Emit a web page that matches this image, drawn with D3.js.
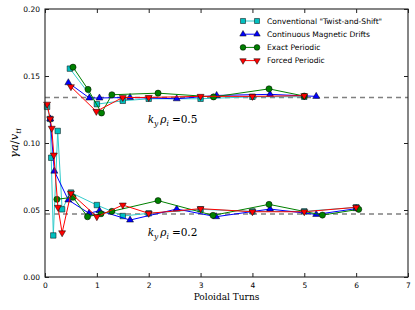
<!DOCTYPE html>
<html>
<head>
<meta charset="utf-8">
<script src="https://cdn.jsdelivr.net/npm/d3@7"></script>
<style>
  body { margin: 0; background: #fff; }
  text { font-family: "DejaVu Sans", sans-serif; }
</style>
</head>
<body>
<svg id="chart" width="415" height="310"></svg>
<script>
// values
var xTicks = [0, 1, 2, 3, 4, 5, 6, 7];
var yTicks = [0.00, 0.05, 0.10, 0.15, 0.20];
var refLines = [0.134, 0.047];

var methodNames = ['Conventional "Twist-and-Shift"', "Continuous Magnetic Drifts", "Exact Periodic", "Forced Periodic"];

// Conventional "Twist-and-Shift"
var twistLowX = [0.04, 0.10, 0.12, 0.16, 0.245, 0.33, 0.5, 1.0, 1.5, 2.0, 3.0, 4.0, 5.0, 6.0];
var twistLowY = [0.127, 0.118, 0.089, 0.031, 0.109, 0.0505, 0.063, 0.0537, 0.0455, 0.0475, 0.0505, 0.049, 0.049, 0.052];
var twistHighX = [0.48, 1.0, 1.5, 2.0, 3.0, 4.0, 5.0];
var twistHighY = [0.1555, 0.129, 0.1315, 0.133, 0.133, 0.1345, 0.1345];

// Continuous Magnetic Drifts
var driftLowX = [0.10, 0.18, 0.45, 0.85, 1.05, 1.64, 2.54, 3.3, 4.34, 5.23, 6.0];
var driftLowY = [0.118, 0.079, 0.0575, 0.0475, 0.0495, 0.0425, 0.0507, 0.045, 0.0507, 0.0467, 0.051];
var driftHighX = [0.45, 0.855, 1.05, 1.64, 2.54, 3.31, 4.34, 5.23];
var driftHighY = [0.145, 0.1336, 0.1336, 0.134, 0.133, 0.1355, 0.1363, 0.1348];

// Exact Periodic
var exactLowX = [0.23, 0.54, 0.82, 1.08, 1.29, 2.18, 3.24, 4.32, 5.35, 6.05];
var exactLowY = [0.058, 0.0595, 0.045, 0.0472, 0.049, 0.057, 0.046, 0.0542, 0.0462, 0.0505];
var exactHighX = [0.54, 0.83, 1.09, 1.29, 2.18, 3.25, 4.32, 5.0];
var exactHighY = [0.1566, 0.140, 0.1224, 0.136, 0.1372, 0.1344, 0.1404, 0.135];

// Forced Periodic
var forcedLowX = [0.04, 0.10, 0.13, 0.17, 0.25, 0.33, 0.5, 1.0, 1.5, 2.0, 3.0, 4.0, 5.0, 6.0];
var forcedLowY = [0.129, 0.118, 0.111, 0.091, 0.052, 0.033, 0.0625, 0.045, 0.0537, 0.0475, 0.051, 0.0487, 0.0487, 0.052];
var forcedHighX = [0.5, 0.99, 1.5, 2.0, 3.0, 4.0, 5.0];
var forcedHighY = [0.142, 0.1236, 0.134, 0.134, 0.1348, 0.1348, 0.1353];

var margin = {top: 9, right: 7, bottom: 33, left: 45};
var width = 415 - margin.left - margin.right;
var height = 310 - margin.top - margin.bottom;

var svg = d3.select("#chart");
var g = svg.append("g").attr("transform", "translate(" + margin.left + "," + margin.top + ")");

var x = d3.scaleLinear().domain([0, 7]).range([0, width]);
var y = d3.scaleLinear().domain([0, 0.2]).range([height, 0]);

function zip(xs, ys) {
  return xs.map(function(v, i) { return [v, ys[i]]; });
}

var series = [
  {name: methodNames[0], color: "#00bfbf", line: "#33cccc", shape: "square", parts: [zip(twistLowX, twistLowY), zip(twistHighX, twistHighY)]},
  {name: methodNames[1], color: "#0000ff", line: "#0000ff", shape: "up", parts: [zip(driftLowX, driftLowY), zip(driftHighX, driftHighY)]},
  {name: methodNames[2], color: "#008000", line: "#008000", shape: "circle", parts: [zip(exactLowX, exactLowY), zip(exactHighX, exactHighY)]},
  {name: methodNames[3], color: "#ff0000", line: "#ff0000", shape: "down", parts: [zip(forcedLowX, forcedLowY), zip(forcedHighX, forcedHighY)]}
];

// reference dashed lines
refLines.forEach(function(v) {
  g.append("line")
    .attr("x1", 0).attr("x2", width)
    .attr("y1", y(v)).attr("y2", y(v))
    .attr("stroke", "#808080")
    .attr("stroke-width", 1.6)
    .attr("stroke-dasharray", "5,4");
});

var line = d3.line().x(function(d) { return x(d[0]); }).y(function(d) { return y(d[1]); });

function drawMarker(sel, shape, color, k) {
  k = k || 1;
  var s;
  if (shape == "square") s = d3.symbol().type(d3.symbolSquare).size(30 * k);
  else if (shape == "circle") s = d3.symbol().type(d3.symbolCircle).size(30 * k);
  else s = d3.symbol().type(d3.symbolTriangle).size(21 * k);
  sel.append("path")
    .attr("d", s())
    .attr("transform", function() { return shape == "down" ? "rotate(180)" : null; })
    .attr("fill", color)
    .attr("stroke", "#000")
    .attr("stroke-width", 0.5);
}

series.forEach(function(s) {
  s.parts.forEach(function(pts) {
    g.append("path")
      .datum(pts)
      .attr("d", line)
      .attr("fill", "none")
      .attr("stroke", s.line)
      .attr("stroke-width", 1);

    g.selectAll(null).data(pts).enter()
      .append("g")
      .attr("transform", function(d) { return "translate(" + x(d[0]) + "," + y(d[1]) + ")"; })
      .each(function() { drawMarker(d3.select(this), s.shape, s.color); });
  });
});

// frame
g.append("rect")
  .attr("width", width).attr("height", height)
  .attr("fill", "none")
  .attr("stroke", "#222")
  .attr("stroke-width", 1.1);

// axes, ticks inward
var xAxis = d3.axisBottom(x).tickValues(xTicks).tickFormat(d3.format("d")).tickSizeInner(-4).tickSizeOuter(0).tickPadding(6);
var yAxis = d3.axisLeft(y).tickValues(yTicks).tickFormat(d3.format(".2f")).tickSizeInner(-4).tickSizeOuter(0).tickPadding(5);

var gx = g.append("g").attr("transform", "translate(0," + height + ")").call(xAxis);
var gy = g.append("g").call(yAxis);
g.append("g").call(d3.axisTop(x).tickValues(xTicks).tickFormat("").tickSizeInner(-4).tickSizeOuter(0));
g.append("g").attr("transform", "translate(" + width + ",0)").call(d3.axisRight(y).tickValues(yTicks).tickFormat("").tickSizeInner(-4).tickSizeOuter(0));

g.selectAll(".domain").remove();
g.selectAll(".tick line").attr("stroke", "#222");
gx.selectAll("text").attr("font-size", 7.5).attr("fill", "#000");
gy.selectAll("text").attr("font-size", 7.5).attr("fill", "#000");

// axis titles
svg.append("text")
  .attr("x", margin.left + width / 2)
  .attr("y", 300)
  .attr("text-anchor", "middle")
  .style("font-family", "'DejaVu Serif', serif")
  .attr("font-size", 9)
  .text("Poloidal Turns");

var yl = svg.append("text")
  .attr("transform", "translate(18," + (margin.top + height / 2) + ") rotate(-90)")
  .attr("text-anchor", "middle")
  .style("font-family", "'DejaVu Serif', serif")
  .attr("font-size", 11.5);
yl.append("tspan").style("font-style", "italic").text("γa");
yl.append("tspan").text("/");
yl.append("tspan").style("font-style", "italic").text("v");
yl.append("tspan").style("font-style", "italic").attr("font-size", 8).attr("dy", 2.5).text("ti");

// k_y rho_i annotations
function kLabel(xv, yv, val) {
  var t = g.append("text")
    .attr("x", x(xv)).attr("y", y(yv))
    .style("font-family", "'DejaVu Serif', serif")
    .attr("font-size", 10.5);
  t.append("tspan").style("font-style", "italic").text("k");
  t.append("tspan").style("font-style", "italic").attr("font-size", 7.5).attr("dy", 3).text("y");
  t.append("tspan").style("font-style", "italic").attr("dy", -3).attr("dx", 2).text("ρ");
  t.append("tspan").style("font-style", "italic").attr("font-size", 7.5).attr("dy", 3).text("i");
  t.append("tspan").attr("dy", -3).attr("dx", 3).text("=" + val);
}
kLabel(1.98, 0.115, "0.5");
kLabel(1.98, 0.0305, "0.2");

// legend
var legend = svg.append("g").attr("transform", "translate(243,21)");
series.forEach(function(s, i) {
  var row = legend.append("g").attr("transform", "translate(0," + (i * 13.2) + ")");
  row.append("line").attr("x1", 0).attr("x2", 14).attr("stroke", s.line).attr("stroke-width", 1);
  [0, 14].forEach(function(px) {
    var m = row.append("g").attr("transform", "translate(" + px + ",0)");
    drawMarker(m, s.shape, s.color, 0.85);
  });
  row.append("text")
    .attr("x", 24).attr("y", 0)
    .attr("dy", "0.35em")
    .attr("font-size", 7.6)
    .text(s.name);
});
</script>
</body>
</html>
